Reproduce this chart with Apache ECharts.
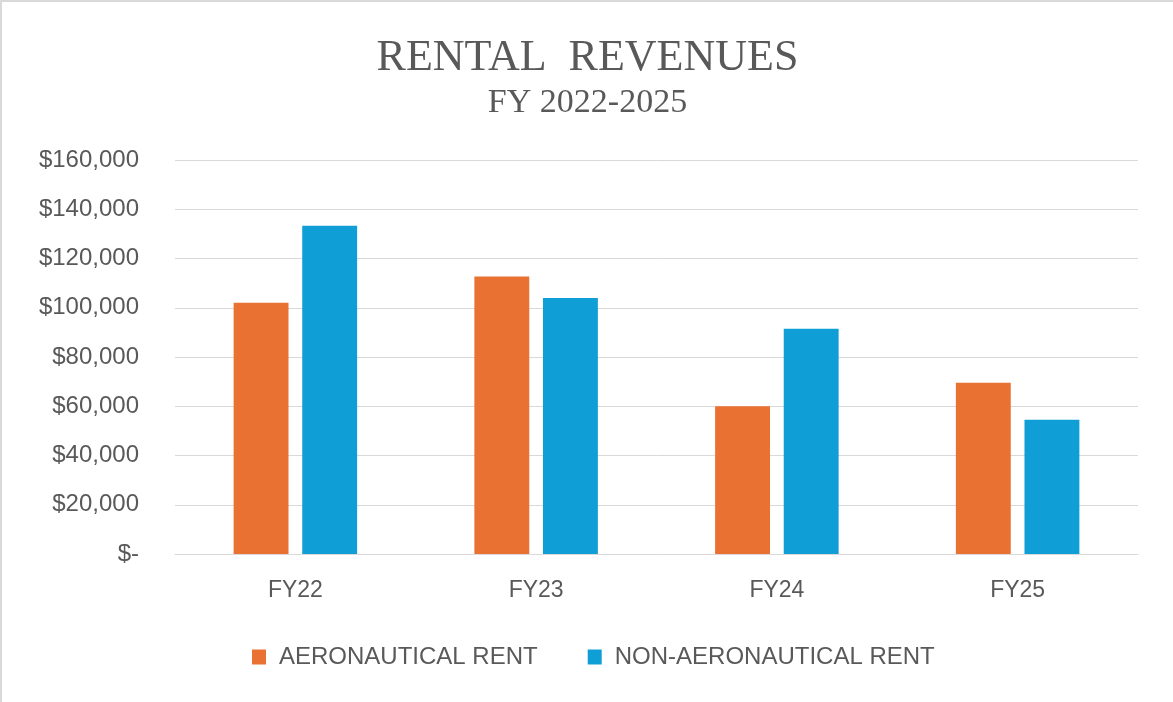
<!DOCTYPE html>
<html>
<head>
<meta charset="utf-8">
<script src="https://cdn.jsdelivr.net/npm/echarts@6/dist/echarts.min.js"></script>
<style>
  html, body { margin: 0; padding: 0; background: #fff; }
  #rentalChart {
    width: 1173px;
    height: 702px;
    box-sizing: border-box;
    border: 2px solid #d9d9d9;
    border-right: none;
    border-bottom: none;
  }
</style>
</head>
<body>
<div id="rentalChart"></div>
<script>
const years = ['FY22', 'FY23', 'FY24', 'FY25'];
const aeroRent = [102000, 112700, 60000, 69500];
const nonAeroRent = [133300, 104000, 91500, 54500];
const seriesNames = ['AERONAUTICAL RENT', 'NON-AERONAUTICAL RENT'];

const labelFont = '"Liberation Sans", Arial, sans-serif';
const titleFont = '"Liberation Serif", "DejaVu Serif", serif';
const textColor = '#595959';

function money(v) {
  if (v === 0) return '$-';
  return '$' + v.toString().replace(/\B(?=(\d{3})+(?!\d))/g, ',');
}

const chart = echarts.init(document.getElementById('rentalChart'));
chart.setOption({
  animation: false,
  backgroundColor: '#fff',
  title: {
    text: 'RENTAL  REVENUES',
    subtext: 'FY 2022-2025',
    left: 'center',
    top: 29,
    itemGap: 6,
    textStyle: { fontFamily: titleFont, fontSize: 44, fontWeight: 'normal', color: textColor },
    subtextStyle: { fontFamily: titleFont, fontSize: 34, color: textColor }
  },
  grid: { left: 173, right: 35, top: 158, bottom: 148 },
  legend: {
    data: seriesNames,
    bottom: 28,
    left: 245,
    itemWidth: 14,
    itemHeight: 15,
    itemGap: 50,
    icon: 'rect',
    textStyle: { fontFamily: labelFont, fontSize: 24, color: textColor, padding: [0, 0, 0, 8] }
  },
  xAxis: {
    type: 'category',
    data: years,
    axisLine: { show: true, lineStyle: { color: '#d9d9d9', width: 1 } },
    axisTick: { show: false },
    axisLabel: { margin: 25, fontFamily: labelFont, fontSize: 23, color: textColor }
  },
  yAxis: {
    type: 'value',
    min: 0,
    max: 160000,
    interval: 20000,
    axisLine: { show: false },
    axisTick: { show: false },
    splitLine: { lineStyle: { color: '#d9d9d9', width: 1 } },
    axisLabel: { margin: 36, fontFamily: labelFont, fontSize: 24, color: textColor, formatter: money }
  },
  series: [
    {
      name: seriesNames[0],
      type: 'bar',
      data: aeroRent,
      barWidth: '22.8%',
      barGap: '25%',
      itemStyle: { color: '#E97132' }
    },
    {
      name: seriesNames[1],
      type: 'bar',
      data: nonAeroRent,
      barWidth: '22.8%',
      itemStyle: { color: '#0F9ED5' }
    }
  ]
});
</script>
</body>
</html>
